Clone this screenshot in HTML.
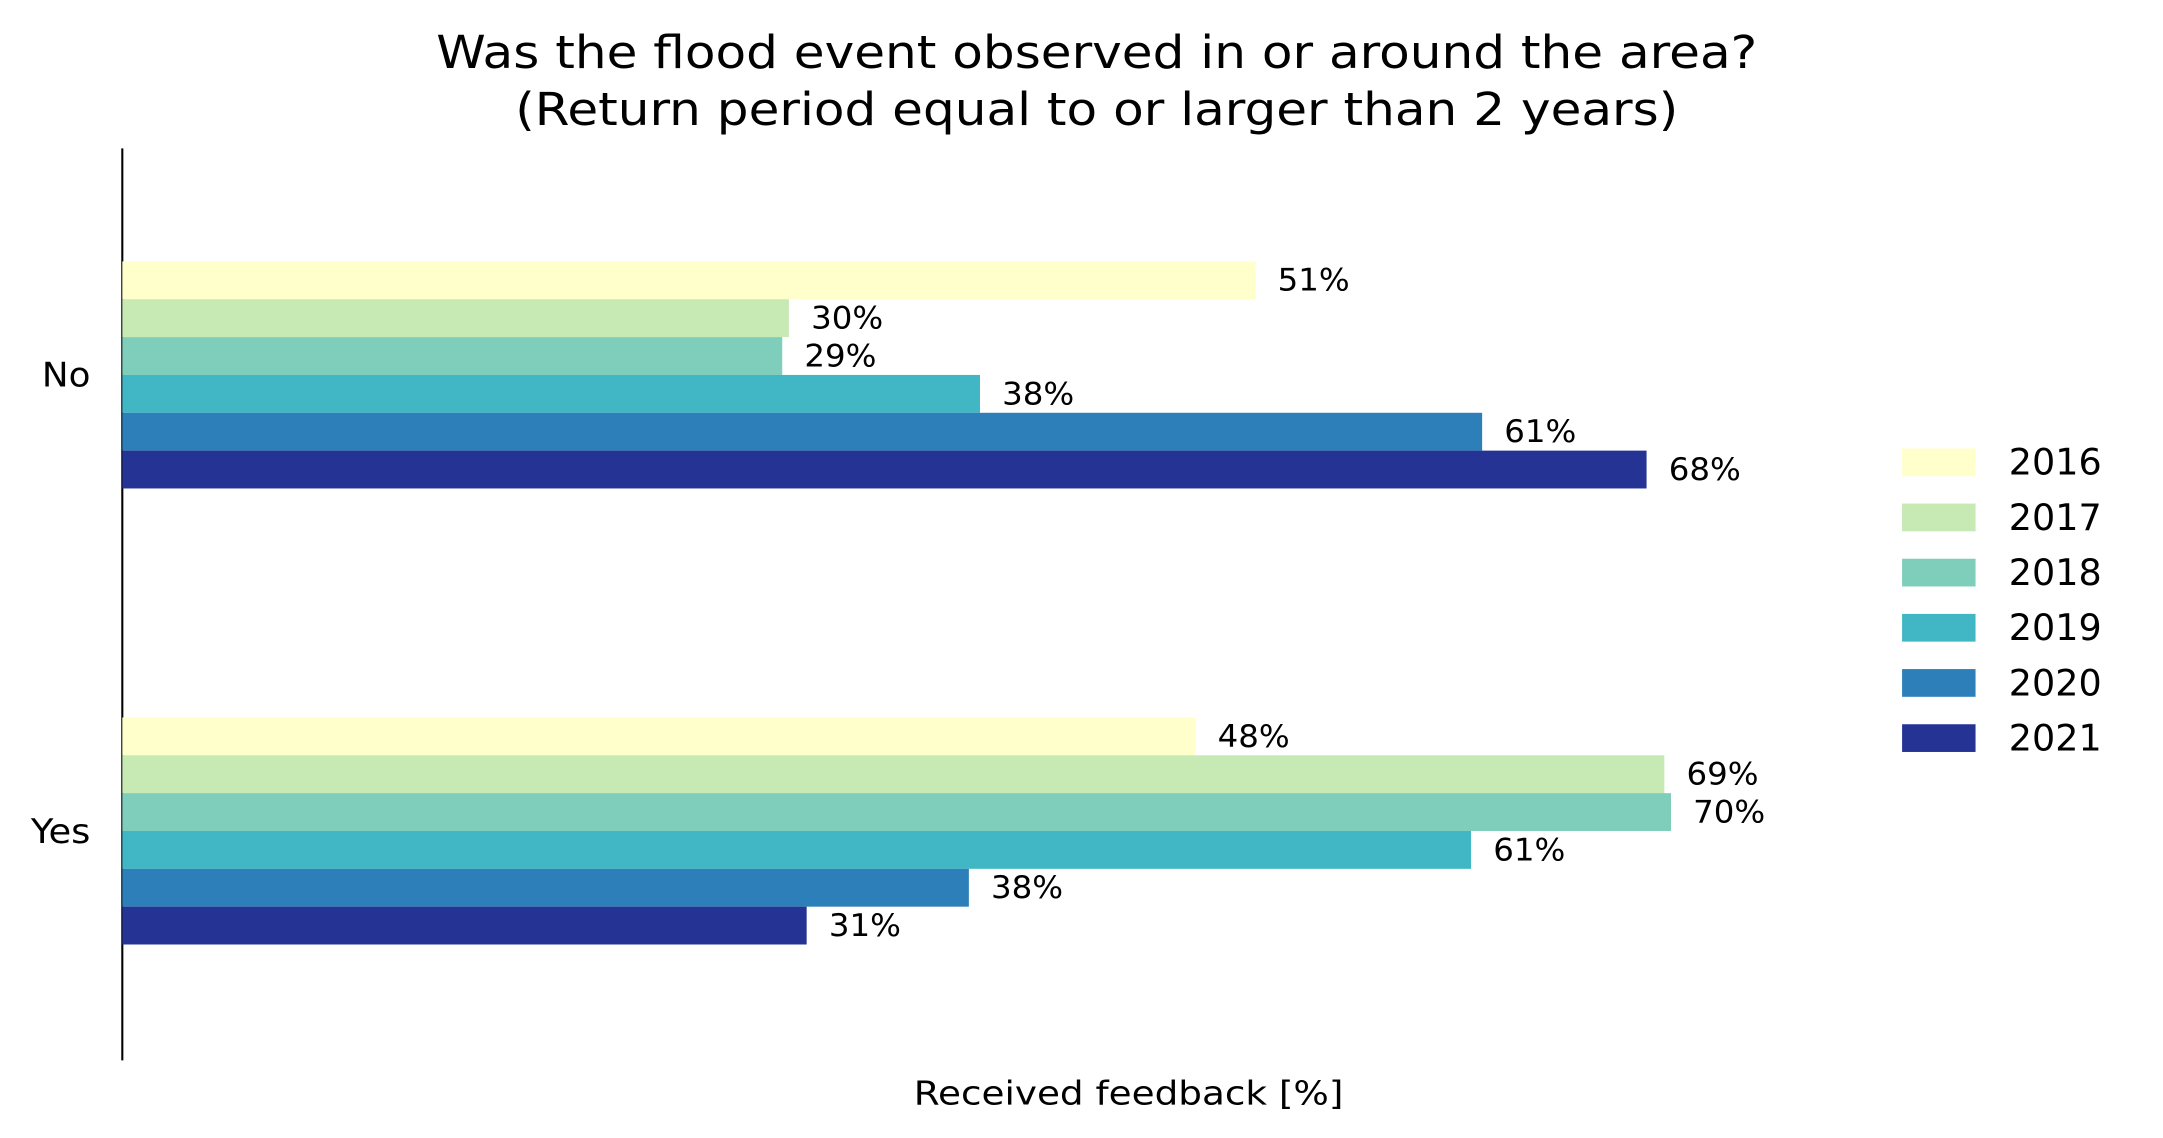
<!DOCTYPE html>
<html><head><meta charset="utf-8"><style>html,body{margin:0;padding:0;background:#fff}svg{display:block}</style></head>
<body>
<svg id="chart" width="2163" height="1138" viewBox="0 0 1560 821" xmlns="http://www.w3.org/2000/svg" font-family="DejaVu Sans, Liberation Sans, sans-serif">
<text x="791" y="49" text-anchor="middle" font-size="33" textLength="953" lengthAdjust="spacingAndGlyphs">Was the flood event observed in or around the area?</text>
<text x="791" y="90" text-anchor="middle" font-size="33" textLength="839" lengthAdjust="spacingAndGlyphs">(Return period equal to or larger than 2 years)</text>
<line x1="88" y1="107" x2="88" y2="765" stroke="#000" stroke-width="1.5"/>
<text x="814" y="797" text-anchor="middle" font-size="23.5" textLength="310" lengthAdjust="spacingAndGlyphs">Received feedback [%]</text>
<g id="bars"></g>
<g id="legend"></g>
</svg>
<script>
const categories = ["No", "Yes"];
const years = ["2016", "2017", "2018", "2019", "2020", "2021"];
const noValues = [51.0, 30.0, 29.7, 38.6, 61.2, 68.6];
const yesValues = [48.3, 69.4, 69.7, 60.7, 38.1, 30.8];
const noLabels = ["51%", "30%", "29%", "38%", "61%", "68%"];
const yesLabels = ["48%", "69%", "70%", "61%", "38%", "31%"];
const colors = ["#ffffcc", "#c7e9b4", "#7fcdbb", "#41b6c4", "#2c7fb8", "#253494"];

const NS = "http://www.w3.org/2000/svg";
const x0 = 88, pxPerPct = 16.03;
const xScale = v => x0 + v * pxPerPct;
const groupCenters = [270.5, 599.5];
const barH = 27.3;
const series = [noValues, yesValues];
const labels = [noLabels, yesLabels];
const tickWidths = [35, 43];
const bars = document.getElementById("bars");

categories.forEach((cat, gi) => {
  const t = document.createElementNS(NS, "text");
  
  
  t.setAttribute("x", 65); t.setAttribute("y", groupCenters[gi] + 8.5);
  t.setAttribute("text-anchor", "end"); t.setAttribute("font-size", "24.5");
  t.setAttribute("textLength", tickWidths[gi]); t.setAttribute("lengthAdjust", "spacingAndGlyphs");
  t.textContent = cat; bars.appendChild(t);
  const top = groupCenters[gi] - barH * years.length / 2;
  years.forEach((yr, i) => {
    const v = series[gi][i];
    const r = document.createElementNS(NS, "rect");
    
    
    r.setAttribute("x", x0); r.setAttribute("y", top + i * barH);
    r.setAttribute("width", xScale(v) - x0); r.setAttribute("height", barH);
    r.setAttribute("fill", colors[i]); bars.appendChild(r);
    const l = document.createElementNS(NS, "text");
    
    
    l.setAttribute("x", xScale(v) + 16); l.setAttribute("y", top + i * barH + barH / 2 + 7.5);
    l.setAttribute("font-size", "22.5");
    l.setAttribute("textLength", 52); l.setAttribute("lengthAdjust", "spacingAndGlyphs");
    l.textContent = labels[gi][i]; bars.appendChild(l);
  });
});

const legend = document.getElementById("legend");
years.forEach((yr, i) => {
  const cy = 333.5 + i * 39.8;
  const r = document.createElementNS(NS, "rect");
  
  
  r.setAttribute("x", 1372); r.setAttribute("y", cy - 10);
  r.setAttribute("width", 53); r.setAttribute("height", 20);
  r.setAttribute("fill", colors[i]); legend.appendChild(r);
  const t = document.createElementNS(NS, "text");
  
  
  t.setAttribute("x", 1449); t.setAttribute("y", cy + 9);
  t.setAttribute("font-size", "26.5");
  t.setAttribute("textLength", 67); t.setAttribute("lengthAdjust", "spacingAndGlyphs");
  t.textContent = yr; legend.appendChild(t);
});
</script>
</body></html>
